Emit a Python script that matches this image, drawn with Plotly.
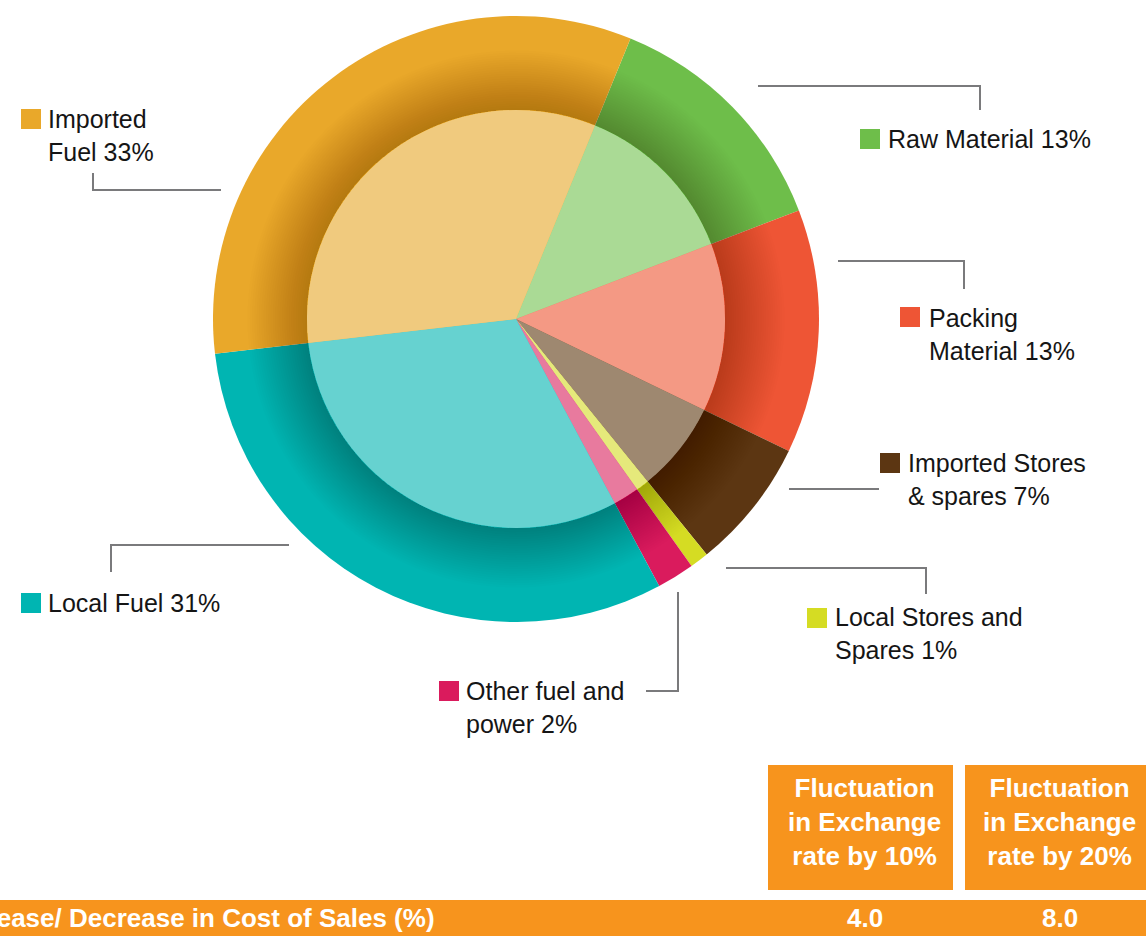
import plotly.graph_objects as go

# Cost of sales composition (%), listed clockwise from the top-right slice
categories = ["Raw Material", "Packing Material", "Imported Stores & spares",
              "Local Stores and Spares", "Other fuel and power", "Local Fuel", "Imported Fuel"]
shares = [13, 13, 7, 1, 2, 31, 33]
label_text = ["Raw Material 13%", "Packing<br>Material 13%", "Imported Stores<br>& spares 7%",
              "Local Stores and<br>Spares 1%", "Other fuel and<br>power 2%", "Local Fuel 31%",
              "Imported<br>Fuel 33%"]

# Sensitivity table
scenario_headers = ["Fluctuation<br>in Exchange<br>rate by 10%", "Fluctuation<br>in Exchange<br>rate by 20%"]
scenario_values = [4.0, 8.0]
row_label = "Increase/ Decrease in Cost of Sales (%)"

W, H = 1146, 936
outer_colors = ["#6EBE4A", "#EE5535", "#5C3612", "#D5DC23", "#DA1B5D", "#00B5B2", "#E9A82A"]
inner_colors = ["#AADA95", "#F49984", "#9E8870", "#E5E97B", "#E87A9E", "#66D2D0", "#F0CA7E"]

CX, CY = 516, 319
R_OUT, R_IN = 303, 209
ROT = 22.2
FONT = "Liberation Sans, Arial"


def px_x(x):
    return x / W


def px_y(y):
    return 1 - y / H


def dom(r):
    return dict(x=[px_x(CX - r), px_x(CX + r)], y=[px_y(CY + r), px_y(CY - r)])


fig = go.Figure()

fig.add_trace(go.Pie(values=shares, labels=categories, sort=False, direction="clockwise",
                     rotation=ROT, marker=dict(colors=outer_colors, line=dict(width=0)),
                     textinfo="none", hoverinfo="label+percent", domain=dom(R_OUT)))

# soft shadow cast by the inner disc onto the ring: thin translucent bands
for k in range(1, 27):
    r = R_IN + 2.3 * k
    fig.add_trace(go.Pie(values=[1], labels=["shade"], hole=R_IN / r, sort=False,
                         marker=dict(colors=["rgba(20,10,0,0.0075)"], line=dict(width=0)),
                         textinfo="none", hoverinfo="skip", domain=dom(r)))

fig.add_trace(go.Pie(values=shares, labels=categories, sort=False, direction="clockwise",
                     rotation=ROT, marker=dict(colors=inner_colors, line=dict(width=0)),
                     textinfo="none", hoverinfo="label+percent", domain=dom(R_IN)))

shapes = []
annotations = []

# legend entries: (swatch left, swatch top, text x, text first-line centre y)
legend_pos = [(860, 129, 886, 139), (900, 307, 927, 318), (880, 453, 906, 463),
              (807, 608, 833, 617), (439, 681, 464, 691), (21, 593, 46, 603), (21, 109, 46, 119)]
# leader lines as polylines in pixels
leaders = [
    [(758, 86), (980, 86), (980, 110)],
    [(838, 261), (964, 261), (964, 289)],
    [(789, 489), (879, 489)],
    [(726, 568), (926, 568), (926, 594)],
    [(678, 592), (678, 691), (646, 691)],
    [(111, 572), (111, 545), (289, 545)],
    [(93, 173), (93, 190), (221, 190)],
]

for i, (sx, sy, tx, ty) in enumerate(legend_pos):
    shapes.append(dict(type="rect", xref="paper", yref="paper", x0=px_x(sx), x1=px_x(sx + 20),
                       y0=px_y(sy + 20), y1=px_y(sy), fillcolor=outer_colors[i], line=dict(width=0)))
    annotations.append(dict(xref="paper", yref="paper", x=px_x(tx), y=px_y(ty - 16),
                            xanchor="left", yanchor="top", align="left", showarrow=False,
                            text=label_text[i], font=dict(family=FONT, size=25, color="#151515")))

for pts in leaders:
    path = "M " + " L ".join(f"{px_x(x):.5f},{px_y(y):.5f}" for x, y in pts)
    shapes.append(dict(type="path", xref="paper", yref="paper", path=path,
                       line=dict(color="#7A7A7C", width=2)))

ORANGE = "#F7941D"
boxes = [(768, 953), (965, 1146)]
for (x0, x1), head, val in zip(boxes, scenario_headers, scenario_values):
    shapes.append(dict(type="rect", xref="paper", yref="paper", x0=px_x(x0), x1=px_x(x1),
                       y0=px_y(890), y1=px_y(765), fillcolor=ORANGE, line=dict(width=0)))
    cx = (x0 + x1) / 2 + 4
    bold_head = "<br>".join(f"<b>{line}</b>" for line in head.split("<br>"))
    annotations.append(dict(xref="paper", yref="paper", x=px_x(cx), y=px_y(822),
                            xanchor="center", yanchor="middle", showarrow=False, text=bold_head,
                            font=dict(family=FONT, size=26, color="white"), align="center"))
    annotations.append(dict(xref="paper", yref="paper", x=px_x(cx), y=px_y(918),
                            xanchor="center", yanchor="middle", showarrow=False,
                            text=f"<b>{val:.1f}</b>",
                            font=dict(family=FONT, size=26, color="white")))

shapes.append(dict(type="rect", xref="paper", yref="paper", x0=0, x1=1, y0=0, y1=px_y(900),
                   fillcolor=ORANGE, line=dict(width=0), layer="below"))
annotations.append(dict(xref="paper", yref="paper", x=px_x(437), y=px_y(918), xanchor="right",
                        yanchor="middle", showarrow=False, text=f"<b>{row_label}</b>",
                        font=dict(family=FONT, size=26, color="white")))

fig.update_layout(width=W, height=H, margin=dict(l=0, r=0, t=0, b=0), showlegend=False,
                  paper_bgcolor="white", plot_bgcolor="white", shapes=shapes,
                  annotations=annotations)

fig.write_html("out.html")
